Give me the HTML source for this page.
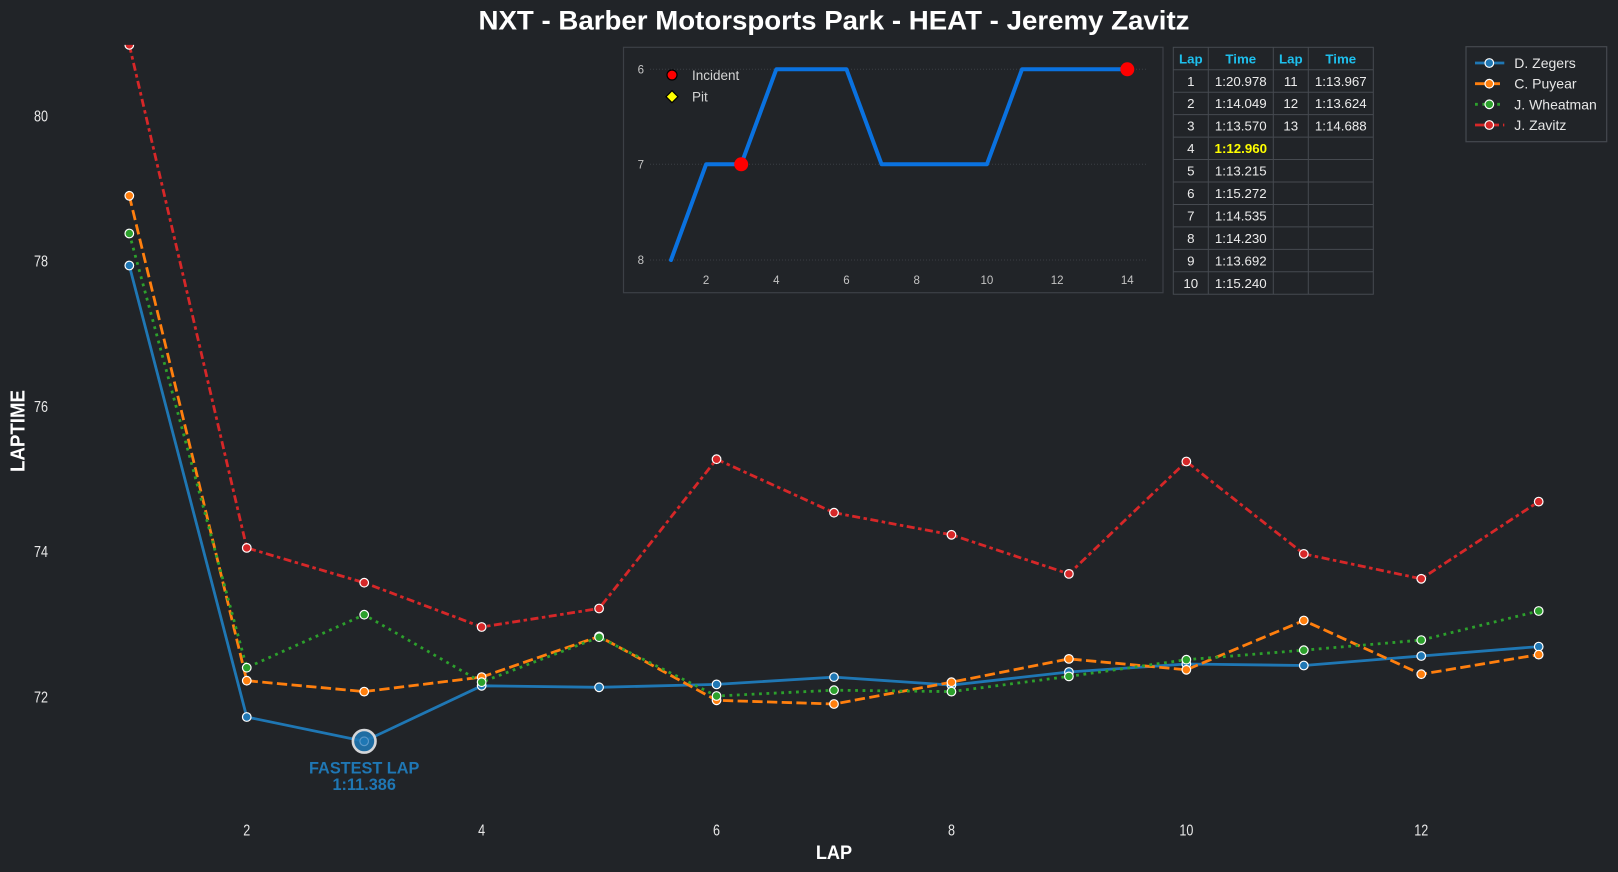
<!DOCTYPE html>
<html>
<head>
<meta charset="utf-8">
<style>
html,body{margin:0;padding:0;background:#212428;}
svg{display:block;}
text{font-family:"Liberation Sans",Arial,sans-serif;}
</style>
</head>
<body>
<svg width="1618" height="872" viewBox="0 0 1618 872" xmlns="http://www.w3.org/2000/svg">
<rect x="0" y="0" width="1618" height="872" fill="#212428"/>

<!-- Title -->
<text x="834" y="29.3" text-anchor="middle" font-size="27" font-weight="bold" fill="#ffffff" textLength="711" lengthAdjust="spacingAndGlyphs">NXT - Barber Motorsports Park - HEAT - Jeremy Zavitz</text>

<!-- Y tick labels -->
<g font-size="15.5" fill="#e8e8e8" text-anchor="end">
<text x="48" y="702.3" textLength="14" lengthAdjust="spacingAndGlyphs">72</text>
<text x="48" y="557.1" textLength="14" lengthAdjust="spacingAndGlyphs">74</text>
<text x="48" y="411.9" textLength="14" lengthAdjust="spacingAndGlyphs">76</text>
<text x="48" y="266.7" textLength="14" lengthAdjust="spacingAndGlyphs">78</text>
<text x="48" y="121.5" textLength="14" lengthAdjust="spacingAndGlyphs">80</text>
</g>

<!-- X tick labels -->
<g font-size="15.5" fill="#e8e8e8" text-anchor="middle">
<text x="246.75" y="835.6" textLength="7" lengthAdjust="spacingAndGlyphs">2</text>
<text x="481.65" y="835.6" textLength="7" lengthAdjust="spacingAndGlyphs">4</text>
<text x="716.55" y="835.6" textLength="7" lengthAdjust="spacingAndGlyphs">6</text>
<text x="951.45" y="835.6" textLength="7" lengthAdjust="spacingAndGlyphs">8</text>
<text x="1186.35" y="835.6" textLength="14" lengthAdjust="spacingAndGlyphs">10</text>
<text x="1421.25" y="835.6" textLength="14" lengthAdjust="spacingAndGlyphs">12</text>
</g>

<!-- Axis labels -->
<text x="834" y="859.1" text-anchor="middle" font-size="19" font-weight="bold" fill="#ffffff" textLength="36.3" lengthAdjust="spacingAndGlyphs">LAP</text>
<text transform="translate(24.7,431) rotate(-90)" text-anchor="middle" font-size="20" font-weight="bold" fill="#ffffff" textLength="82" lengthAdjust="spacingAndGlyphs">LAPTIME</text>

<defs>
<clipPath id="ax"><rect x="60" y="44.9" width="1540" height="780"/></clipPath>
</defs>

<g clip-path="url(#ax)">
<!-- Blue: D. Zegers -->
<polyline fill="none" stroke="#1f77b4" stroke-width="2.8" stroke-linejoin="round"
 points="129.3,265.5 246.75,717.0 364.2,741.3 481.65,685.8 599.1,687.3 716.55,684.4 834,677.1 951.45,685.1 1068.9,672.0 1186.35,664.0 1303.8,665.5 1421.25,656.0 1538.7,646.6"/>
<g fill="#1f77b4" stroke="#ffffff" stroke-width="1.2">
<circle cx="129.3" cy="265.5" r="4.3"/><circle cx="246.75" cy="717.0" r="4.3"/><circle cx="364.2" cy="741.3" r="4.3"/><circle cx="481.65" cy="685.8" r="4.3"/><circle cx="599.1" cy="687.3" r="4.3"/><circle cx="716.55" cy="684.4" r="4.3"/><circle cx="834" cy="677.1" r="4.3"/><circle cx="951.45" cy="685.1" r="4.3"/><circle cx="1068.9" cy="672.0" r="4.3"/><circle cx="1186.35" cy="664.0" r="4.3"/><circle cx="1303.8" cy="665.5" r="4.3"/><circle cx="1421.25" cy="656.0" r="4.3"/><circle cx="1538.7" cy="646.6" r="4.3"/>
</g>

<!-- Orange: C. Puyear -->
<polyline fill="none" stroke="#ff7f0e" stroke-width="2.8" stroke-dasharray="10.3,4.4"
 points="129.3,195.8 246.75,680.7 364.2,691.6 481.65,677.1 599.1,636.4 716.55,700.3 834,704.0 951.45,682.2 1068.9,658.9 1186.35,669.8 1303.8,620.5 1421.25,674.2 1538.7,654.6"/>
<g fill="#ff7f0e" stroke="#ffffff" stroke-width="1.2">
<circle cx="129.3" cy="195.8" r="4.3"/><circle cx="246.75" cy="680.7" r="4.3"/><circle cx="364.2" cy="691.6" r="4.3"/><circle cx="481.65" cy="677.1" r="4.3"/><circle cx="599.1" cy="636.4" r="4.3"/><circle cx="716.55" cy="700.3" r="4.3"/><circle cx="834" cy="704.0" r="4.3"/><circle cx="951.45" cy="682.2" r="4.3"/><circle cx="1068.9" cy="658.9" r="4.3"/><circle cx="1186.35" cy="669.8" r="4.3"/><circle cx="1303.8" cy="620.5" r="4.3"/><circle cx="1421.25" cy="674.2" r="4.3"/><circle cx="1538.7" cy="654.6" r="4.3"/>
</g>

<!-- Green: J. Wheatman -->
<polyline fill="none" stroke="#2ca02c" stroke-width="2.8" stroke-dasharray="2.8,4.6"
 points="129.3,233.5 246.75,667.7 364.2,614.7 481.65,682.2 599.1,637.2 716.55,696.0 834,690.2 951.45,691.6 1068.9,676.4 1186.35,659.7 1303.8,650.2 1421.25,640.1 1538.7,611.0"/>
<g fill="#2ca02c" stroke="#ffffff" stroke-width="1.2">
<circle cx="129.3" cy="233.5" r="4.3"/><circle cx="246.75" cy="667.7" r="4.3"/><circle cx="364.2" cy="614.7" r="4.3"/><circle cx="481.65" cy="682.2" r="4.3"/><circle cx="599.1" cy="637.2" r="4.3"/><circle cx="716.55" cy="696.0" r="4.3"/><circle cx="834" cy="690.2" r="4.3"/><circle cx="951.45" cy="691.6" r="4.3"/><circle cx="1068.9" cy="676.4" r="4.3"/><circle cx="1186.35" cy="659.7" r="4.3"/><circle cx="1303.8" cy="650.2" r="4.3"/><circle cx="1421.25" cy="640.1" r="4.3"/><circle cx="1538.7" cy="611.0" r="4.3"/>
</g>

<!-- Red: J. Zavitz -->
<polyline fill="none" stroke="#d62728" stroke-width="2.8" stroke-dasharray="8,3.5,3.5,3.5"
 points="129.3,44.9 246.75,547.9 364.2,582.7 481.65,627.0 599.1,608.5 716.55,459.2 834,512.7 951.45,534.8 1068.9,573.9 1186.35,461.5 1303.8,553.9 1421.25,578.8 1538.7,501.6"/>
<g fill="#d62728" stroke="#ffffff" stroke-width="1.2">
<circle cx="129.3" cy="44.9" r="4.3"/><circle cx="246.75" cy="547.9" r="4.3"/><circle cx="364.2" cy="582.7" r="4.3"/><circle cx="481.65" cy="627.0" r="4.3"/><circle cx="599.1" cy="608.5" r="4.3"/><circle cx="716.55" cy="459.2" r="4.3"/><circle cx="834" cy="512.7" r="4.3"/><circle cx="951.45" cy="534.8" r="4.3"/><circle cx="1068.9" cy="573.9" r="4.3"/><circle cx="1186.35" cy="461.5" r="4.3"/><circle cx="1303.8" cy="553.9" r="4.3"/><circle cx="1421.25" cy="578.8" r="4.3"/><circle cx="1538.7" cy="501.6" r="4.3"/>
</g>

<!-- Fastest lap highlight -->
<circle cx="364.2" cy="741.3" r="11.3" fill="#1f77b4" fill-opacity="0.88" stroke="#d4d6d9" stroke-width="2.6"/>
<circle cx="364.2" cy="741.3" r="4.3" fill="none" stroke="#5c98c8" stroke-width="1"/>
</g>

<text x="364.2" y="773.6" text-anchor="middle" font-size="16.3" font-weight="bold" fill="#1f77b4">FASTEST LAP</text>
<text x="364.2" y="789.9" text-anchor="middle" font-size="16.3" font-weight="bold" fill="#1f77b4">1:11.386</text>

<!-- Inset position chart -->
<rect x="623.5" y="47.3" width="539.5" height="245.4" fill="#212428" stroke="#3c4046" stroke-width="1.2"/>
<g stroke="#3a3e44" stroke-width="1" stroke-dasharray="1,2">
<line x1="650" y1="69.3" x2="1148" y2="69.3"/>
<line x1="650" y1="164.3" x2="1148" y2="164.3"/>
<line x1="650" y1="260" x2="1148" y2="260"/>
</g>
<g font-size="11.5" fill="#c4c4c4" text-anchor="end">
<text x="644" y="73.4">6</text>
<text x="644" y="168.4">7</text>
<text x="644" y="264.1">8</text>
</g>
<g font-size="11.5" fill="#c4c4c4" text-anchor="middle">
<text x="706.1" y="284.1">2</text>
<text x="776.3" y="284.1">4</text>
<text x="846.5" y="284.1">6</text>
<text x="916.7" y="284.1">8</text>
<text x="986.9" y="284.1">10</text>
<text x="1057.1" y="284.1">12</text>
<text x="1127.3" y="284.1">14</text>
</g>
<polyline fill="none" stroke="#0a72e0" stroke-width="4" stroke-linejoin="round" stroke-linecap="round"
 points="671,260 706.1,164.3 741.2,164.3 776.3,69.3 846.5,69.3 881.6,164.3 986.9,164.3 1022,69.3 1127.3,69.3"/>
<circle cx="741.2" cy="164.3" r="7" fill="#ff0000"/>
<circle cx="1127.3" cy="69.3" r="7" fill="#ff0000"/>
<circle cx="672" cy="75" r="5" fill="#ff0000" stroke="#000000" stroke-width="1.2"/>
<polygon points="672,90.7 678,96.7 672,102.7 666,96.7" fill="#ffff00" stroke="#000000" stroke-width="1.2"/>
<g font-size="13.5" fill="#d4d4d4">
<text x="692" y="79.8">Incident</text>
<text x="692" y="101.5">Pit</text>
</g>

<!-- Lap table -->
<g stroke="#464a50" stroke-width="1" fill="none">
<rect x="1173.3" y="47.3" width="200" height="246.95"/>
<line x1="1208.3" y1="47.3" x2="1208.3" y2="294.25"/>
<line x1="1273.3" y1="47.3" x2="1273.3" y2="294.25"/>
<line x1="1308.3" y1="47.3" x2="1308.3" y2="294.25"/>
<line x1="1173.3" y1="69.75" x2="1373.3" y2="69.75"/>
<line x1="1173.3" y1="92.2" x2="1373.3" y2="92.2"/>
<line x1="1173.3" y1="114.65" x2="1373.3" y2="114.65"/>
<line x1="1173.3" y1="137.1" x2="1373.3" y2="137.1"/>
<line x1="1173.3" y1="159.55" x2="1373.3" y2="159.55"/>
<line x1="1173.3" y1="182" x2="1373.3" y2="182"/>
<line x1="1173.3" y1="204.45" x2="1373.3" y2="204.45"/>
<line x1="1173.3" y1="226.9" x2="1373.3" y2="226.9"/>
<line x1="1173.3" y1="249.35" x2="1373.3" y2="249.35"/>
<line x1="1173.3" y1="271.8" x2="1373.3" y2="271.8"/>
</g>
<g font-size="13.3" font-weight="bold" fill="#1ec0ee" text-anchor="middle">
<text x="1190.8" y="63.3">Lap</text>
<text x="1240.8" y="63.3">Time</text>
<text x="1290.8" y="63.3">Lap</text>
<text x="1340.8" y="63.3">Time</text>
</g>
<g font-size="13.3" fill="#ececec" text-anchor="middle">
<text x="1190.8" y="85.75">1</text><text x="1240.8" y="85.75">1:20.978</text><text x="1290.8" y="85.75">11</text><text x="1340.8" y="85.75">1:13.967</text>
<text x="1190.8" y="108.2">2</text><text x="1240.8" y="108.2">1:14.049</text><text x="1290.8" y="108.2">12</text><text x="1340.8" y="108.2">1:13.624</text>
<text x="1190.8" y="130.65">3</text><text x="1240.8" y="130.65">1:13.570</text><text x="1290.8" y="130.65">13</text><text x="1340.8" y="130.65">1:14.688</text>
<text x="1190.8" y="153.1">4</text>
<text x="1190.8" y="175.55">5</text><text x="1240.8" y="175.55">1:13.215</text>
<text x="1190.8" y="198">6</text><text x="1240.8" y="198">1:15.272</text>
<text x="1190.8" y="220.45">7</text><text x="1240.8" y="220.45">1:14.535</text>
<text x="1190.8" y="242.9">8</text><text x="1240.8" y="242.9">1:14.230</text>
<text x="1190.8" y="265.35">9</text><text x="1240.8" y="265.35">1:13.692</text>
<text x="1190.8" y="287.8">10</text><text x="1240.8" y="287.8">1:15.240</text>
</g>
<text x="1240.8" y="153.1" text-anchor="middle" font-size="13.3" font-weight="bold" fill="#ffff00">1:12.960</text>

<!-- Legend -->
<rect x="1466" y="46.7" width="140.7" height="95" fill="#212428" stroke="#45494f" stroke-width="1.2"/>
<line x1="1475" y1="63" x2="1504.3" y2="63" stroke="#1f77b4" stroke-width="2.8"/>
<circle cx="1489.3" cy="63" r="4.3" fill="#1f77b4" stroke="#ffffff" stroke-width="1.2"/>
<line x1="1475" y1="83.7" x2="1504.3" y2="83.7" stroke="#ff7f0e" stroke-width="2.8" stroke-dasharray="10.3,4.4"/>
<circle cx="1489.3" cy="83.7" r="4.3" fill="#ff7f0e" stroke="#ffffff" stroke-width="1.2"/>
<line x1="1475" y1="104.3" x2="1504.3" y2="104.3" stroke="#2ca02c" stroke-width="2.8" stroke-dasharray="2.8,4.6"/>
<circle cx="1489.3" cy="104.3" r="4.3" fill="#2ca02c" stroke="#ffffff" stroke-width="1.2"/>
<line x1="1475" y1="125" x2="1504.3" y2="125" stroke="#d62728" stroke-width="2.8" stroke-dasharray="10,4"/>
<circle cx="1489.3" cy="125" r="4.3" fill="#d62728" stroke="#ffffff" stroke-width="1.2"/>
<g font-size="14" fill="#e6e6e6">
<text x="1514.3" y="68">D. Zegers</text>
<text x="1514.3" y="88.7">C. Puyear</text>
<text x="1514.3" y="109.3">J. Wheatman</text>
<text x="1514.3" y="130">J. Zavitz</text>
</g>
</svg>
</body>
</html>
